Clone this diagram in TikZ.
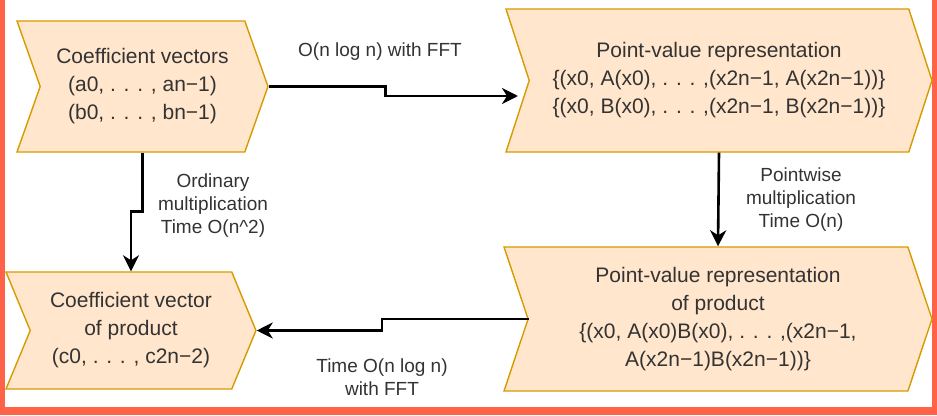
\documentclass[tikz,border=0pt]{standalone}
\usepackage{fontspec}
\setmainfont{Liberation Sans}
\usetikzlibrary{arrows.meta, shapes.symbols}
\definecolor{stepfill}{HTML}{FFE6CC}
\definecolor{stepline}{HTML}{D79B00}
\definecolor{framered}{HTML}{FF6347}
\definecolor{txtgray}{HTML}{333333}

\begin{document}
\begin{tikzpicture}[x=1pt, y=-1pt,
    stepbox/.style={shape=signal, signal from=west, signal to=east, draw=stepline, fill=stepfill,
        line width=1.4pt, inner sep=0pt, align=center, text=txtgray, font=\fontsize{21}{28}\selectfont},
    flow/.style={line width=2.6pt, -{Stealth[length=16pt, width=16pt, inset=5pt]}},
    lbl/.style={text=txtgray, align=center, font=\fontsize{19}{23}\selectfont}]
    % border
    \fill[framered] (0,0) rectangle (937,415);
    \fill[white] (5,0) rectangle (932,407);
    % boxes
    \node[stepbox, minimum width=251pt, minimum height=131pt, signal pointer angle=141] (cv) at (142.5,86.5)
        {Coefficient vectors\\(a0, . . . , an−1)\\(b0, . . . , bn−1)};
    \node[stepbox, minimum width=426pt, minimum height=143pt, signal pointer angle=144] (pv) at (719,80.5)
        {Point-value representation\\\{(x0, A(x0), . . . ,(x2n−1, A(x2n−1))\}\\\{(x0, B(x0), . . . ,(x2n−1, B(x2n−1))\}};
    \node[stepbox, minimum width=250pt, minimum height=117pt, signal pointer angle=135] (cp) at (131,330.5)
        {Coefficient vector\\of product\\(c0, . . . , c2n−2)};
    \node[stepbox, minimum width=428pt, minimum height=144pt, signal pointer angle=143] (pvp) at (718,319)
        {Point-value representation\\of product\\\{(x0, A(x0)B(x0), . . . ,(x2n−1,\\A(x2n−1)B(x2n−1))\}};
    % connectors
    \coordinate (fft-in) at (518,96);
    \coordinate (pvp-in) at (529,319);
    \draw[flow] (cv.east) -- ++(117,0) |- (fft-in);
    \draw[flow] (cv.south) -- ++(0,59) -| (cp.north);
    \draw[flow] (pv.south) -- (pvp.north);
    \draw[flow] (pvp-in) -- ++(-147,0) |- (cp.east);
    % labels
    \node[lbl] (lfft) at (380,52) {O(n log n) with FFT};
    \node[lbl] (lord) at (213,206) {Ordinary\\multiplication\\Time O(n\textasciicircum 2)};
    \node[lbl] (lpw) at (801,200) {Pointwise\\multiplication\\Time O(n)};
    \node[lbl] (lfft2) at (382,377) {Time O(n log n)\\with FFT};
\end{tikzpicture}
\end{document}
